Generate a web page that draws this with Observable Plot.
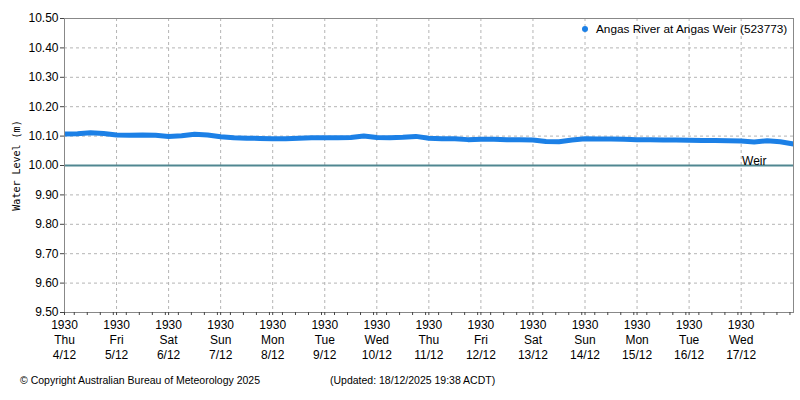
<!DOCTYPE html>
<html>
<head>
<meta charset="utf-8">
<script src="https://cdn.jsdelivr.net/npm/d3@7"></script>
<script src="https://cdn.jsdelivr.net/npm/@observablehq/plot@0.6"></script>
<style>
  body { margin: 0; background: #fff; font-family: "Liberation Sans", sans-serif; }
  #wrap { position: relative; width: 800px; height: 400px; }
  #legend { position: absolute; left: 582px; top: 22px; font-size: 11.8px; color: #000; white-space: nowrap; }
  #legend .dot { display: inline-block; width: 6px; height: 6px; border-radius: 50%; background: #1c80e6; margin-right: 8px; vertical-align: middle; position: relative; top: -1px; }
  #foot1 { position: absolute; left: 20px; top: 374px; font-size: 10.5px; color: #000; white-space: nowrap; }
  #foot2 { position: absolute; left: 330px; top: 374px; font-size: 10.5px; color: #000; white-space: nowrap; }
  [aria-label="y-axis label"] text { font-family: "DejaVu Sans Mono", monospace; font-size: 10px; }
</style>
</head>
<body>
<div id="wrap">
  <div id="chart"></div>
  <div id="legend"><span class="dot"></span>Angas River at Angas Weir (523773)</div>
  <div id="foot1">© Copyright Australian Bureau of Meteorology 2025</div>
  <div id="foot2">(Updated: 18/12/2025 19:38 ACDT)</div>
</div>
<script>
// ---- data ----
const times = [
  "2025-12-04T19:30","2025-12-05T01:30","2025-12-05T07:30","2025-12-05T13:30",
  "2025-12-05T19:30","2025-12-06T01:30","2025-12-06T07:30","2025-12-06T13:30",
  "2025-12-06T19:30","2025-12-07T01:30","2025-12-07T07:30","2025-12-07T13:30",
  "2025-12-07T19:30","2025-12-08T01:30","2025-12-08T07:30","2025-12-08T13:30",
  "2025-12-08T19:30","2025-12-09T01:30","2025-12-09T07:30","2025-12-09T13:30",
  "2025-12-09T19:30","2025-12-10T01:30","2025-12-10T07:30","2025-12-10T13:30",
  "2025-12-10T19:30","2025-12-11T01:30","2025-12-11T07:30","2025-12-11T13:30",
  "2025-12-11T19:30","2025-12-12T01:30","2025-12-12T07:30","2025-12-12T13:30",
  "2025-12-12T19:30","2025-12-13T01:30","2025-12-13T07:30","2025-12-13T13:30",
  "2025-12-13T19:30","2025-12-14T01:30","2025-12-14T07:30","2025-12-14T13:30",
  "2025-12-14T19:30","2025-12-15T01:30","2025-12-15T07:30","2025-12-15T13:30",
  "2025-12-15T19:30","2025-12-16T01:30","2025-12-16T07:30","2025-12-16T13:30",
  "2025-12-16T19:30","2025-12-17T01:30","2025-12-17T07:30","2025-12-17T13:30",
  "2025-12-17T19:30","2025-12-18T01:30","2025-12-18T07:30","2025-12-18T13:30",
  "2025-12-18T19:38"
];
const levels = [
  10.107, 10.108, 10.111, 10.109,
  10.104, 10.103, 10.104, 10.103,
  10.099, 10.101, 10.106, 10.104,
  10.098, 10.094, 10.093, 10.092,
  10.091, 10.091, 10.093, 10.094,
  10.094, 10.094, 10.095, 10.100,
  10.095, 10.094, 10.096, 10.099,
  10.093, 10.091, 10.091, 10.088,
  10.089, 10.089, 10.088, 10.088,
  10.087, 10.082, 10.081, 10.087,
  10.091, 10.090, 10.090, 10.089,
  10.088, 10.088, 10.087, 10.087,
  10.086, 10.085, 10.085, 10.084,
  10.083, 10.080, 10.084, 10.081,
  10.073
];
const weirLevel = 10.00;
const weirLabel = "Weir";
const yTicks = [9.5, 9.6, 9.7, 9.8, 9.9, 10.0, 10.1, 10.2, 10.3, 10.4, 10.5];
const dayTicks = [
  "2025-12-04T19:30","2025-12-05T19:30","2025-12-06T19:30","2025-12-07T19:30",
  "2025-12-08T19:30","2025-12-09T19:30","2025-12-10T19:30","2025-12-11T19:30",
  "2025-12-12T19:30","2025-12-13T19:30","2025-12-14T19:30","2025-12-15T19:30",
  "2025-12-16T19:30","2025-12-17T19:30"
];
const xStart = "2025-12-04T19:30";
const xEnd = "2025-12-18T19:38";

// ---- build ----
const parse = s => new Date(s + "Z");
const series = times.map((t, i) => ({t: parse(t), v: levels[i]}));
const majors = dayTicks.map(parse);
const minors = d3.utcHour.every(6).range(parse(xStart), parse(xEnd))
  .filter(d => !majors.some(m => +m === +d));
const fmt = d3.utcFormat("%H%M\n%a\n%-d/%-m");

const chart = Plot.plot({
  width: 800,
  height: 400,
  marginTop: 18,
  marginBottom: 88,
  marginLeft: 64,
  marginRight: 7,
  style: {fontFamily: "Liberation Sans, sans-serif", fontSize: "12px", color: "#000", background: "#fff"},
  x: {type: "utc", domain: [parse(xStart), parse(xEnd)]},
  y: {domain: [9.5, 10.5]},
  marks: [
    Plot.gridX(majors, {stroke: "#b4b4b4", strokeOpacity: 1, strokeDasharray: "3,3"}),
    Plot.gridY(yTicks, {stroke: "#b4b4b4", strokeOpacity: 1, strokeDasharray: "3,3"}),
    Plot.ruleY([weirLevel], {stroke: "#508791", strokeWidth: 2.2}),
    Plot.text([weirLevel], {y: d => d, text: () => weirLabel, frameAnchor: "right", textAnchor: "end", lineAnchor: "bottom", dx: -27, dy: -1, fontSize: 12, fill: "#000"}),
    Plot.line(series, {x: "t", y: "v", stroke: "#1c80e6", strokeWidth: 5, strokeLinejoin: "miter", strokeLinecap: "butt"}),
    Plot.frame({stroke: "#888"}),
    Plot.axisY({ticks: yTicks, tickFormat: d3.format(".2f"), tickSize: 4, tickPadding: 2, label: "Water Level (m)", labelAnchor: "center", labelArrow: "none", labelOffset: 52, stroke: "#444"}),
    Plot.axisX({ticks: majors, tickFormat: fmt, tickSize: 3, tickPadding: 3, lineHeight: 1.25, label: null, stroke: "#444"}),
    Plot.axisX({ticks: minors, tickFormat: () => "", tickSize: 3, label: null, stroke: "#444"})
  ]
});
document.getElementById("chart").appendChild(chart);
</script>
</body>
</html>
